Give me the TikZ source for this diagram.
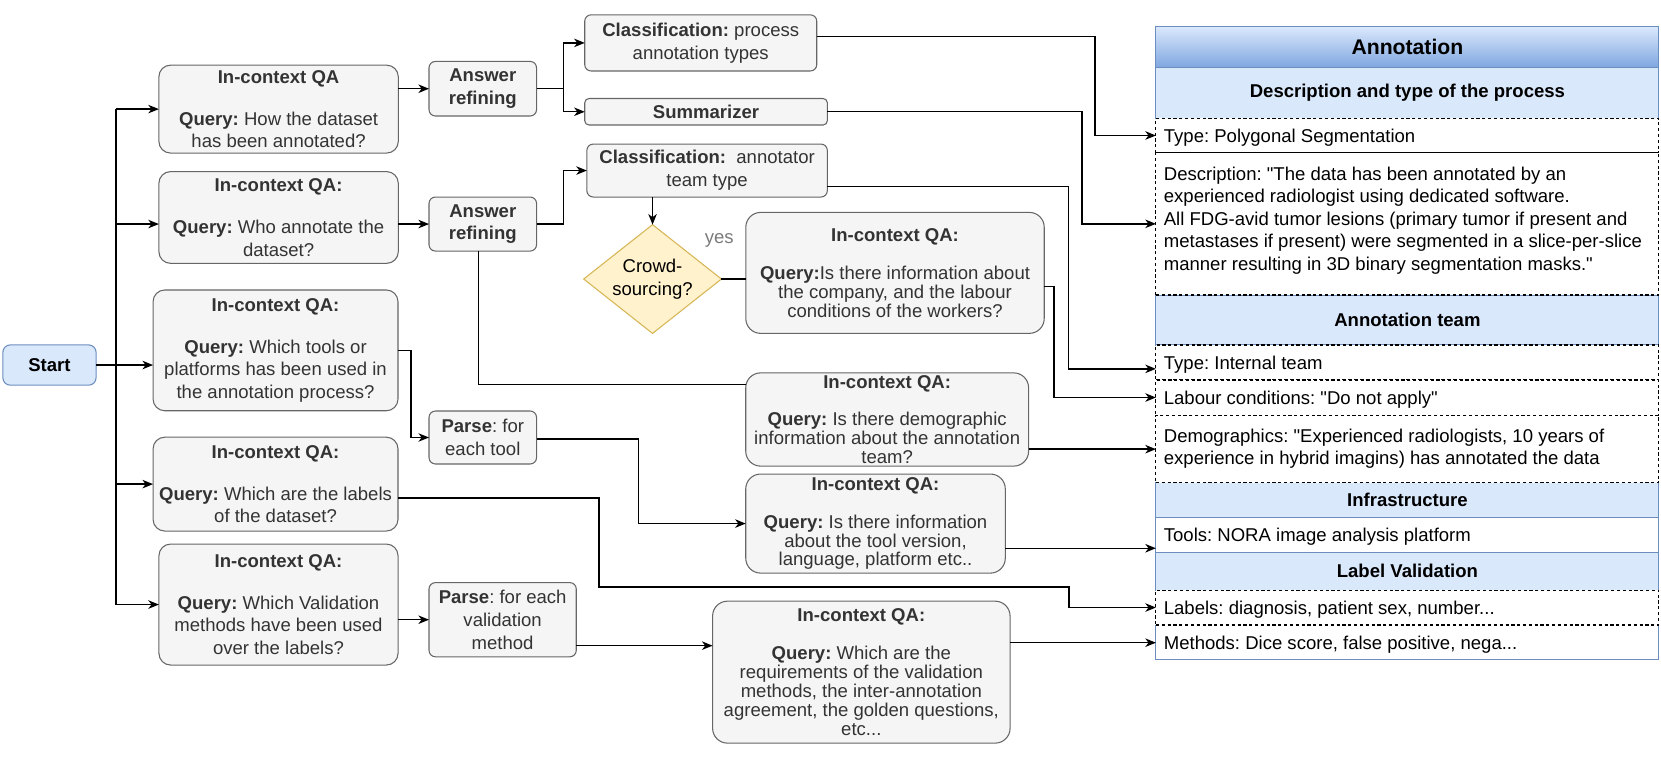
\documentclass[tikz,border=0pt]{standalone}
\usepackage{fontspec}
\setmainfont{Liberation Sans}[Ligatures=TeXOff]
\usetikzlibrary{arrows.meta,shapes.geometric}
\definecolor{bfill}{HTML}{F5F5F5}
\definecolor{bdraw}{HTML}{666666}
\definecolor{btext}{HTML}{333333}
\definecolor{blfill}{HTML}{DAE8FC}
\definecolor{bldraw}{HTML}{6C8EBF}
\definecolor{hdrbot}{HTML}{7EA6E0}
\definecolor{yfill}{HTML}{FFF2CC}
\definecolor{ydraw}{HTML}{D6B656}
\definecolor{yescol}{HTML}{7A7A7A}
\frenchspacing
\begin{document}
\frenchspacing
\begin{tikzpicture}[x=1pt,y=-1pt,
 every node/.style={inner sep=0pt, outer sep=0pt},
 base/.style={font=\fontsize{17.5}{21.5}\selectfont},
 tight/.style={font=\fontsize{17.5}{17.8}\selectfont},
 qbox/.style={base, draw=bdraw, fill=bfill, text=btext, align=center, rounded corners=11pt, line width=1pt},
 rbox/.style={tight, draw=bdraw, fill=bfill, text=btext, align=center, rounded corners=14pt, line width=1pt},
 sbox/.style={base, draw=bdraw, fill=bfill, text=btext, align=center, rounded corners=6pt, line width=1pt},
 conn/.style={line width=1.3pt, draw=black},
 arr/.style={conn, -{Stealth[length=10pt,width=8pt,inset=3pt]}},
 hdr/.style={font=\fontsize{17.5}{21}\selectfont\bfseries, draw=bldraw, fill=blfill, line width=1pt, anchor=north west, minimum width=474.8pt},
 drow/.style={draw=black, fill=white, line width=1pt, dash pattern=on 3pt off 2.5pt, anchor=north west, minimum width=474.8pt},
 ttxt/.style={font=\fontsize{17.5}{21.3}\selectfont, anchor=west, align=left},
]
\useasboundingbox (0,0) rectangle (1568,718);

% ---------- left column ----------
\node[font=\fontsize{17.5}{21}\selectfont\bfseries, draw=bldraw, fill=blfill, rounded corners=7pt, line width=1pt, minimum width=88pt, minimum height=38pt] (Start) at (46.7,344.6) {Start};

\node[qbox, minimum width=226pt, minimum height=83pt] (Q1) at (263,103)
 {\textbf{In-context QA}\\[18pt]\textbf{Query:} How the dataset\\has been annotated?};
\node[qbox, minimum width=226pt, minimum height=86.6pt] (Q2) at (263,205.3)
 {\textbf{In-context QA:}\\[18pt]\textbf{Query:} Who annotate the\\dataset?};
\node[qbox, minimum width=231.2pt, minimum height=114pt] (Q3) at (260.1,330.75)
 {\textbf{In-context QA:}\\[18pt]\textbf{Query:} Which tools or\\platforms has been used in\\the annotation process?};
\node[qbox, minimum width=231.2pt, minimum height=88.6pt] (Q4) at (260.1,457)
 {\textbf{In-context QA:}\\[18pt]\textbf{Query:} Which are the labels\\of the dataset?};
\node[qbox, minimum width=225.7pt, minimum height=114.2pt] (Q5) at (262.9,570.7)
 {\textbf{In-context QA:}\\[18pt]\textbf{Query:} Which Validation\\methods have been used\\over the labels?};

% ---------- middle ----------
\node[sbox, minimum width=101.5pt, minimum height=51.5pt] (AR1) at (455.75,83.75) {\textbf{Answer}\\\textbf{refining}};
\node[sbox, minimum width=101.5pt, minimum height=51pt] (AR2) at (455.75,211.5) {\textbf{Answer}\\\textbf{refining}};
\node[sbox, minimum width=101.5pt, minimum height=50pt] (PT) at (455.75,413) {\textbf{Parse}: for\\each tool};
\node[sbox, minimum width=139pt, minimum height=70pt] (PV) at (474.5,585) {\textbf{Parse}: for each\\validation\\method};

\node[sbox, minimum width=219pt, minimum height=53pt] (C1) at (661.5,40.5) {\textbf{Classification:} process\\annotation types};
\node[sbox, minimum width=229pt, minimum height=25pt, rounded corners=4pt] (Sum) at (666.5,105.5) {\textbf{Summarizer}};
\node[sbox, minimum width=227pt, minimum height=50pt] (C2) at (667.5,161) {\textbf{Classification:}~ annotator\\team type};

\node[base, diamond, aspect=1.266, draw=ydraw, fill=yfill, line width=1pt, align=center, minimum width=130pt, minimum height=102.7pt] (D) at (616,263.4) {Crowd-\\sourcing?};
\node[base, text=yescol] (yes) at (679,226.6) {yes};

\node[rbox, minimum width=281.7pt, minimum height=114.2pt] (QAc) at (844.9,257.6)
 {\textbf{In-context QA:}\\[18pt]\textbf{Query:}Is there information about\\the company, and the labour\\conditions of the workers?};
\node[rbox, minimum width=267pt, minimum height=88pt] (Qdemog) at (837.5,396)
 {\textbf{In-context QA:}\\[18pt]\textbf{Query:} Is there demographic\\information about the annotation\\team?};
\node[rbox, minimum width=245pt, minimum height=93.5pt] (Qtool) at (826.5,494.25)
 {\textbf{In-context QA:}\\[18pt]\textbf{Query:} Is there information\\about the tool version,\\language, platform etc..};
\node[rbox, minimum width=280.8pt, minimum height=134pt] (Qv) at (813.1,634.5)
 {\textbf{In-context QA:}\\[18pt]\textbf{Query:} Which are the\\requirements of the validation\\methods, the inter-annotation\\agreement, the golden questions,\\etc...};

% ---------- table ----------
\node[hdr, font=\fontsize{20}{24}\selectfont\bfseries, top color=blfill, bottom color=hdrbot, minimum height=38.7pt] (Annot) at (1091.2,25.2) {Annotation};
\node[hdr, minimum height=47.8pt] (DescH) at (1091.2,63.9) {Description and type of the process};
\node[hdr, minimum height=47.2pt] (TeamH) at (1091.2,278.5) {Annotation team};
\node[hdr, minimum height=32.7pt] (InfraH) at (1091.2,455.7) {Infrastructure};
\node[hdr, minimum height=35.3pt] (ValH) at (1091.2,521.7) {Label Validation};

\node[drow, minimum height=32.4pt] (TypeRow) at (1091.2,111.7) {};
\node[drow, minimum height=134.4pt] (DescRow) at (1091.2,144.1) {};
\node[drow, minimum height=33pt] (IntRow) at (1091.2,325.7) {};
\node[drow, minimum height=33.1pt] (LabRow) at (1091.2,358.7) {};
\node[drow, minimum height=63.9pt] (DemoRow) at (1091.2,391.8) {};
\node[draw=bldraw, fill=white, line width=1pt, anchor=north west, minimum width=474.8pt, minimum height=33.3pt] (ToolsRow) at (1091.2,488.4) {};
\node[fill=white, anchor=north west, minimum width=474.8pt, minimum height=33pt] (MethRow) at (1091.2,590) {};
\draw[draw=bldraw, line width=1pt] (MethRow.north west) -- (MethRow.south west) -- (MethRow.south east) -- (MethRow.north east);
\node[drow, minimum height=33pt] (LabelsRow) at (1091.2,557) {};

\node[ttxt] at ([xshift=7.5pt,yshift=-2pt]TypeRow.west) {Type: Polygonal Segmentation};
\node[ttxt, anchor=north west] at ([xshift=7.5pt,yshift=-13.3pt]DescRow.north west)
 {Description: "The data has been annotated by an\\experienced radiologist using dedicated software.\\All FDG-avid tumor lesions (primary tumor if present and\\metastases if present) were segmented in a slice-per-slice\\manner resulting in 3D binary segmentation masks."};
\node[ttxt] at ([xshift=7.5pt,yshift=-2pt]IntRow.west) {Type: Internal team};
\node[ttxt] at ([xshift=7.5pt,yshift=-2pt]LabRow.west) {Labour conditions: "Do not apply"};
\node[ttxt] at ([xshift=7.5pt,yshift=0pt]DemoRow.west) {Demographics: "Experienced radiologists, 10 years of\\experience in hybrid imagins) has annotated the data};
\node[ttxt] at ([xshift=7.5pt,yshift=-2pt]ToolsRow.west) {Tools: NORA image analysis platform};
\node[ttxt] at ([xshift=7.5pt,yshift=-2pt]LabelsRow.west) {Labels: diagnosis, patient sex, number...};
\node[ttxt] at ([xshift=7.5pt,yshift=-2pt]MethRow.west) {Methods: Dice score, false positive, nega...};

% ---------- connectors ----------
\coordinate (tr) at (109.5,344.6);
\draw[conn] (Q1.west -| tr) -- (Q5.west -| tr);
\draw[arr] (Start.east) -- (Start.east -| Q3.west);
\draw[arr] (Q1.west -| tr) -- (Q1.west);
\draw[arr] ([yshift=-6.2pt]Q2.west -| tr) -- ([yshift=-6.2pt]Q2.west);
\draw[arr] (Q4.west -| tr) -- (Q4.west);
\draw[arr] (Q5.west -| tr) -- (Q5.west);

\draw[arr] (Q1.east |- AR1.west) -- (AR1.west);
\draw[arr] (AR1.east) -- ++(25.2,0) |- (C1.west);
\draw[arr] (AR1.east) -- ++(25.2,0) |- (Sum.west);
\draw[arr] (Q2.east |- AR2.west) -- (AR2.west);
\draw[arr] (AR2.east) -- ++(25.2,0) |- (C2.west);
\draw[conn] ([xshift=-4pt]AR2.south) |- ([yshift=-10.8pt]Qdemog.north west);
\draw[arr] (C2.south -| D.north) -- (D.north);
\draw[conn] (D.east) -- (D.east -| QAc.west);

\draw[arr] (Q3.east) -- ++(12.3,0) |- (PT.west);
\draw[arr] ([yshift=-1.5pt]PT.east) -- ++(96.5,0) |- (Qtool.west);
\draw[arr] ([yshift=-13pt]Q4.east) -- ++(189.8,0) -- ++(0,84) -- ++(443.5,0) |- (LabelsRow.west);
\draw[arr] (Q5.east |- PV.west) -- (PV.west);
\draw[arr] ([yshift=-24.5pt]PV.east) -- ([yshift=-24.5pt]PV.east -| Qv.west);

\draw[arr] ([yshift=5.9pt]C1.east) -- ++(262.8,0) |- (TypeRow.west);
\draw[arr] (Sum.east) -- ++(240.5,0) |- (DescRow.west);
\draw[arr] ([yshift=-15pt]C2.east) -- ++(227.8,0) |- ([yshift=-6pt]IntRow.west);
\draw[arr] ([yshift=-13pt]QAc.east) -- ++(9.3,0) |- (LabRow.west);
\draw[arr] ([yshift=-28pt]Qdemog.east) -- ([yshift=-28pt]Qdemog.east -| DemoRow.west);
\draw[arr] ([yshift=-23.3pt]Qtool.east) -- ([yshift=-23.3pt]Qtool.east -| ToolsRow.west);
\draw[arr] ([yshift=27.8pt]Qv.east) -- ([yshift=27.8pt]Qv.east -| MethRow.west);
\end{tikzpicture}
\end{document}
